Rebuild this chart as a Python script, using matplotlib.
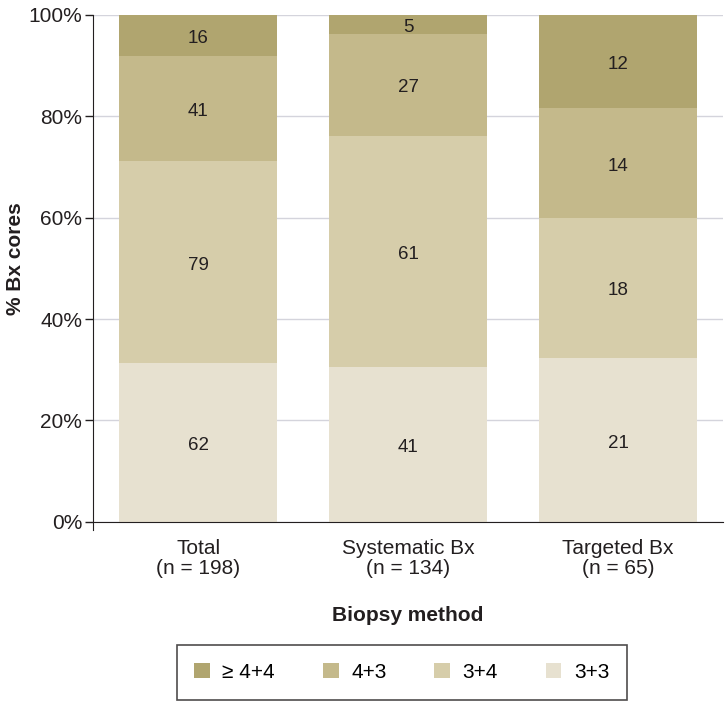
import matplotlib
matplotlib.use("Agg")
import matplotlib.pyplot as plt
import numpy as np
from matplotlib.patches import Patch

plt.rcParams['font.family'] = ['Liberation Sans', 'DejaVu Sans']

categories = ["Total\n(n = 198)", "Systematic Bx\n(n = 134)", "Targeted Bx\n(n = 65)"]
grades = ["3+3", "3+4", "4+3", "\u2265 4+4"]
v33 = [62, 41, 21]
v34 = [79, 61, 18]
v43 = [41, 27, 14]
v44 = [16, 5, 12]
colors = ["#e7e1d0", "#d6cdaa", "#c4b98b", "#b0a56f"]
yticks = [0, 20, 40, 60, 80, 100]

series = [v33, v34, v43, v44]
totals = np.sum(np.array(series), axis=0)

fig = plt.figure(figsize=(7.28, 7.10), dpi=100)
ax = fig.add_axes([0.128, 0.265, 0.865, 0.714])
x = np.arange(len(categories))
bottom = np.zeros(len(categories))
for vals, c in zip(series, colors):
    pct = np.array(vals) / totals * 100
    ax.bar(x, pct, 0.75, bottom=bottom, color=c, zorder=2)
    for xi, b, p, v in zip(x, bottom, pct, vals):
        ax.text(xi, b + p / 2 - 0.6, str(v), ha='center', va='center', fontsize=13.5,
                color='#231f20', zorder=3)
    bottom += pct

ax.set_xlim(-0.5, 2.5)
ax.set_ylim(0, 100)
ax.set_yticks(yticks)
ax.set_yticklabels([f"{t}%" for t in yticks], fontsize=15, color='#231f20')
ax.set_xticks(x)
ax.set_xticklabels(categories, fontsize=15, color='#231f20', linespacing=1.1)
ax.tick_params(axis='x', length=0, pad=12)
ax.tick_params(axis='y', length=6, width=1, color='#231f20', pad=2)
ax.yaxis.grid(True, color='#d4d4dc', linewidth=1, zorder=0)
ax.set_axisbelow(True)
for s in ['top', 'right']:
    ax.spines[s].set_visible(False)
ax.spines['left'].set_color('#231f20')
ax.spines['bottom'].set_color('#231f20')
ax.spines['left'].set_bounds(-1.6, 100)
ax.set_ylabel("% Bx cores", fontsize=15, fontweight='bold', color='#231f20')
ax.yaxis.set_label_coords(-0.108, 0.52)
ax.set_xlabel("Biopsy method", fontsize=15, fontweight='bold', color='#231f20', labelpad=20)

handles = [Patch(facecolor=c, edgecolor='none') for c in colors[::-1]]
leg = fig.legend(handles, grades[::-1], loc='center', bbox_to_anchor=(0.552, 0.053),
                 ncol=4, frameon=True, fontsize=15, handlelength=0.75, handleheight=0.75,
                 columnspacing=2.3, handletextpad=0.6, borderpad=0.85, fancybox=False)
leg.get_frame().set_edgecolor('#231f20')
leg.get_frame().set_linewidth(1.2)

fig.savefig("out.png", dpi=100)
